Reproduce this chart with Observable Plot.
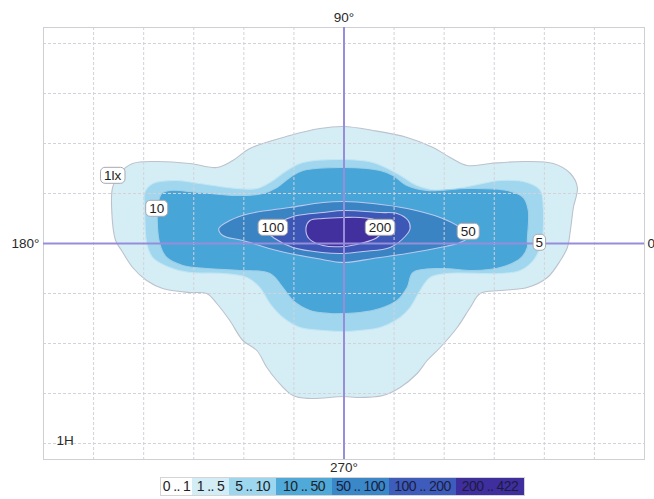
<!DOCTYPE html>
<html><head><meta charset="utf-8">
<script src="https://cdn.jsdelivr.net/npm/d3@7"></script>
<script src="https://cdn.jsdelivr.net/npm/@observablehq/plot@0.6"></script>
<style>
body{margin:0;background:#fff;font-family:"Liberation Sans",Arial,sans-serif;}
#chart svg{display:block}
.legend{display:flex;margin-left:160px;margin-top:1px;border:1px solid #d4d4d4;width:max-content;height:17px;}
.legend span{display:block;height:17px;line-height:17px;font-size:14px;text-align:center;color:#222;letter-spacing:-0.6px;white-space:nowrap}
</style></head><body><div id="chart"></div><div id="legend" class="legend"></div>
<script>
// Isolux levels (lx) and colours
const levels = [1, 5, 10, 50, 100, 200];
const fillColors = ["#d5eef6", "#a0d7ef", "#48a5d7", "#3b84c4", "#3c57b5", "#41309d"];
const lineColors = ["#bcc2cc", "#c4e6f4", "#9fcfe8", "#b9c9ef", "#c3c8f0", "#c8c4ee"];

// Contour outlines (grid units, centre = 0,0)
const contour1 = [[0,2.34],[0.58,2.26],[1.26,2.12],[1.78,1.92],[2.12,1.72],[2.46,1.56],[2.92,1.60],[3.58,1.64],[4.18,1.60],[4.52,1.40],[4.66,1.12],[4.58,0.72],[4.52,0.26],[4.46,-0.08],[4.32,-0.34],[4.06,-0.68],[3.66,-0.88],[3.12,-0.94],[2.72,-1.00],[2.52,-1.28],[2.26,-1.68],[1.92,-2.08],[1.66,-2.34],[1.46,-2.60],[1.12,-2.88],[0.78,-3.04],[0.26,-3.08],[0,-3.06],[-0.68,-3.10],[-1.02,-3.04],[-1.34,-2.74],[-1.54,-2.48],[-1.74,-2.14],[-2.02,-1.94],[-2.28,-1.54],[-2.54,-1.20],[-2.74,-1.00],[-3.08,-0.98],[-3.62,-0.90],[-3.94,-0.74],[-4.22,-0.48],[-4.44,-0.14],[-4.56,0.06],[-4.64,0.72],[-4.62,1.12],[-4.48,1.40],[-4.22,1.60],[-3.74,1.64],[-3.08,1.60],[-2.54,1.52],[-2.22,1.66],[-1.88,1.90],[-1.08,2.16],[-0.48,2.30]];
const contour5 = [[0,1.68],[0.58,1.62],[1.06,1.40],[1.46,1.16],[1.92,1.06],[2.58,1.16],[3.12,1.26],[3.66,1.22],[3.92,1.06],[3.98,0.72],[3.96,0.06],[3.92,-0.08],[3.78,-0.34],[3.52,-0.54],[3.12,-0.60],[2.06,-0.60],[1.72,-0.68],[1.52,-0.94],[1.32,-1.28],[1.12,-1.48],[0.72,-1.68],[0.32,-1.74],[0,-1.76],[-0.42,-1.74],[-0.88,-1.68],[-1.22,-1.48],[-1.48,-1.20],[-1.68,-0.88],[-1.94,-0.68],[-2.42,-0.60],[-3.08,-0.58],[-3.48,-0.48],[-3.82,-0.28],[-3.94,0],[-3.98,0.72],[-3.98,1.02],[-3.82,1.20],[-3.34,1.26],[-2.88,1.20],[-2.14,1.10],[-1.74,1.10],[-1.48,1.22],[-1.14,1.46],[-0.82,1.62]];
const contour10 = [[0,1.52],[0.72,1.46],[0.98,1.36],[1.26,1.16],[1.66,1.06],[2.46,1.10],[3.26,1.06],[3.58,0.92],[3.68,0.66],[3.66,0.06],[3.66,-0.08],[3.52,-0.30],[3.12,-0.48],[2.58,-0.54],[1.92,-0.50],[1.38,-0.58],[1.26,-0.88],[1.06,-1.14],[0.72,-1.30],[0.32,-1.38],[0,-1.40],[-0.28,-1.40],[-0.68,-1.34],[-1.02,-1.14],[-1.22,-0.88],[-1.48,-0.60],[-2.08,-0.54],[-2.74,-0.50],[-3.22,-0.44],[-3.54,-0.28],[-3.68,0],[-3.72,0.72],[-3.64,1.00],[-3.48,1.06],[-2.88,1.02],[-2.14,0.96],[-1.62,1.00],[-1.34,1.12],[-1.08,1.32],[-0.82,1.46]];
const contour50 = [[0,0.84],[0.58,0.80],[1.26,0.70],[1.92,0.52],[2.32,0.32],[2.50,0.14],[2.32,0.02],[1.92,-0.08],[1.26,-0.20],[0.58,-0.30],[0,-0.38],[-0.54,-0.30],[-1.34,-0.14],[-2.02,0.06],[-2.42,0.16],[-2.50,0.30],[-2.28,0.46],[-1.88,0.60],[-1.08,0.72],[-0.42,0.82]];
const contour100 = [[0,0.66],[0.72,0.62],[1.06,0.60],[1.28,0.46],[1.32,0.30],[1.22,0.14],[0.92,-0.08],[0.38,-0.16],[0,-0.20],[-0.44,-0.18],[-1.02,-0.08],[-1.38,0.10],[-1.56,0.28],[-1.22,0.46],[-0.94,0.56],[-0.42,0.62]];
const contour200 = [[0,0.52],[0.32,0.52],[0.66,0.46],[0.78,0.30],[0.66,0.12],[0.32,0],[0,-0.06],[-0.42,-0.04],[-0.70,0.10],[-0.76,0.30],[-0.68,0.46],[-0.42,0.50]];
const contours = [contour1, contour5, contour10, contour50, contour100, contour200];

// Isoline labels
const labelText = ["1lx", "10", "100", "200", "50", "5"];
const labelX = [-4.62, -3.74, -1.42, 0.72, 2.48, 3.90];
const labelY = [1.36, 0.70, 0.32, 0.32, 0.24, 0.02];

// Grid and axis labels
const gridX = [-5, -4, -3, -2, -1, 1, 2, 3, 4, 5];
const gridY = [-4, -3, -2, -1, 1, 2, 3, 4];
const axisText = ["90°", "270°", "180°", "0"];
const scaleText = "1H";

// Legend
const legendText = ["0 .. 1", "1 .. 5", "5 .. 10", "10 .. 50", "50 .. 100", "100 .. 200", "200 .. 422"];
const legendColors = ["#ffffff", "#d3edf6", "#9dd6ef", "#4fa9d9", "#3a88c8", "#3d5cbb", "#3f2e9e"];
const legendWidths = [31, 37, 47, 56, 57, 67, 68];

const labels = labelText.map((t, i) => ({t, x: labelX[i], y: labelY[i]}));
const xMax = 6, yMax = 4.32;

const chart = Plot.plot({
  width: 654, height: 476,
  marginTop: 27, marginBottom: 17, marginLeft: 43, marginRight: 10,
  x: {domain: [-xMax, xMax], axis: null},
  y: {domain: [-yMax, yMax], axis: null},
  style: {fontFamily: "Liberation Sans, Arial, sans-serif", background: "#fff"},
  marks: [
    ...contours.map((pts, i) => Plot.line(pts, {
      x: d => d[0], y: d => d[1], curve: "catmull-rom-closed",
      fill: fillColors[i], stroke: lineColors[i], strokeWidth: 1.1
    })),
    Plot.ruleX(gridX, {stroke: "#d2d2da", strokeDasharray: "3,2", strokeWidth: 1}),
    Plot.ruleY(gridY, {stroke: "#d2d2da", strokeDasharray: "3,2", strokeWidth: 1}),
    Plot.frame({stroke: "#cfcfd6"}),
    Plot.ruleX([0], {stroke: "#968ddb", strokeWidth: 2}),
    Plot.ruleY([0], {stroke: "#968ddb", strokeWidth: 2}),
    Plot.text([axisText[0]], {x: 0, y: yMax, text: d => d, dy: -10, fontSize: 13.5, fill: "#2a2a2a"}),
    Plot.text([axisText[1]], {x: 0, y: -yMax, text: d => d, dy: 8, fontSize: 13.5, fill: "#2a2a2a"}),
    Plot.text([axisText[2]], {x: -xMax, y: 0, text: d => d, textAnchor: "end", dx: -4, fontSize: 13.5, fill: "#2a2a2a"}),
    Plot.text([axisText[3]], {x: xMax, y: 0, text: d => d, textAnchor: "start", dx: 3, fontSize: 13.5, fill: "#2a2a2a"}),
    Plot.text([scaleText], {x: -5.74, y: -3.94, text: d => d, textAnchor: "start", fontSize: 13.5, fill: "#2a2a2a"}),
    Plot.text(labels, {x: "x", y: "y", text: "t", fontSize: 13.5, fill: "#1e1e1e"})
  ]
});
document.getElementById("chart").append(chart);

// white rounded boxes behind the isoline labels
const labelSet = new Set(labelText);
chart.querySelectorAll("text").forEach(t => {
  if (!labelSet.has(t.textContent)) return;
  const b = t.getBBox();
  const r = document.createElementNS("http://www.w3.org/2000/svg", "rect");
  const padX = t.textContent.length === 1 ? 2.5 : 3.5;
  r.setAttribute("x", b.x - padX);
  r.setAttribute("y", b.y - 0.5);
  r.setAttribute("width", b.width + 2 * padX);
  r.setAttribute("height", b.height + 1);
  r.setAttribute("rx", 4.5);
  r.setAttribute("fill", "#fff");
  r.setAttribute("stroke", "#a9a9b0");
  r.setAttribute("stroke-width", 1);
  if (t.getAttribute("transform")) r.setAttribute("transform", t.getAttribute("transform"));
  t.parentNode.insertBefore(r, t);
});

const leg = document.getElementById("legend");
legendText.forEach((s, i) => {
  const sp = document.createElement("span");
  sp.textContent = s;
  sp.style.background = legendColors[i];
  sp.style.width = legendWidths[i] + "px";
  if (i > 3) sp.style.color = "#1c1c40";
  leg.append(sp);
});
</script></body></html>
